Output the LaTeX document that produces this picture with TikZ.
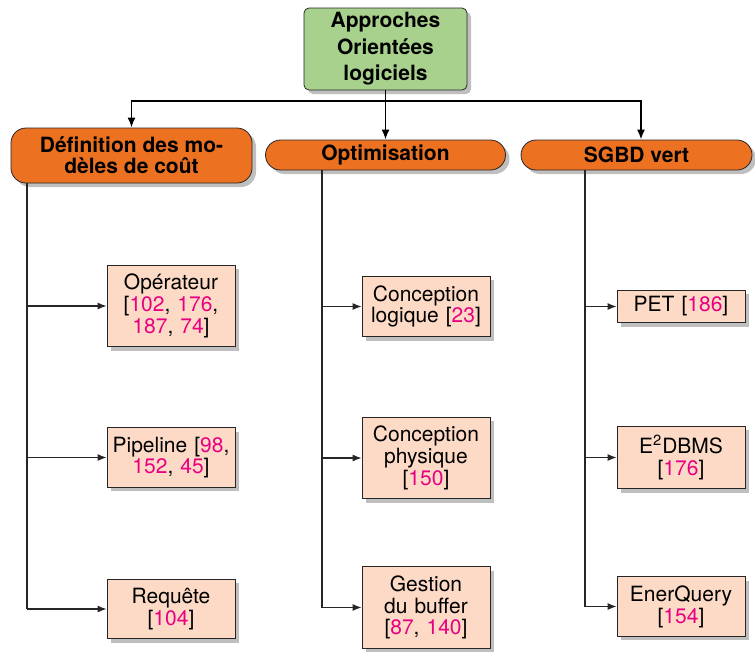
\documentclass[tikz,border=0pt]{standalone}
\usepackage{fontspec}
\setmainfont{TeX Gyre Heros}
\usetikzlibrary{positioning,shadows,arrows.meta}

\definecolor{rootgreen}{RGB}{169,209,142}
\definecolor{catorange}{RGB}{236,114,34}
\definecolor{leafpeach}{RGB}{252,218,197}
\definecolor{citepink}{RGB}{233,0,130}
\newcommand{\cit}[1]{\textcolor{citepink}{#1}}

\begin{document}
\begin{tikzpicture}[x=0.5pt,y=-0.5pt
	,every node/.append style={align=center, font=\fontsize{10.5}{10.9}\selectfont}
	,dropsh/.style={drop shadow={shadow xshift=2pt, shadow yshift=-2pt, fill=black!25, opacity=1}}
	,rootbox/.style={draw=black!85, fill=rootgreen, rounded corners=2.5pt, dropsh,
		minimum width=81.5pt, minimum height=41pt, inner sep=2pt,
		font=\fontsize{10.5}{13.3}\selectfont\bfseries}
	,catbox/.style={draw=black!85, fill=catorange, rounded corners=7.5pt, dropsh,
		minimum height=15pt, inner sep=2pt,
		font=\fontsize{10.5}{10.4}\selectfont\bfseries}
	,leaf/.style={draw=black!85, fill=leafpeach, dropsh,
		text width=60pt, inner xsep=2pt, inner ysep=4.5pt}
	,toparrow/.style={line width=0.9pt, -{Latex[length=5pt,width=4pt]}}
	,trunk/.style={line width=0.55pt, draw=black!85}
	,leafarrow/.style={trunk, -{Latex[length=4.5pt,width=3.5pt]}}
]
	\useasboundingbox (0,0) rectangle (755,653);

	% racine
	\node [rootbox] (root) at (385.5,49) {Approches\\Orientées\\logiciels};

	% categories
	\node [catbox, minimum width=120.5pt, minimum height=27.5pt] (defcout) at (131.5,155.5)
		{Définition des mo-\\dèles de coût};
	\node [catbox, minimum width=120pt] (optim) at (385.5,155) {Optimisation};
	\node [catbox, minimum width=115.5pt] (sgbd) at (636.5,155) {SGBD vert};

	% feuilles
	\node [leaf] (operateur) at (171,306) {Opérateur\\{[}\cit{102}, \cit{176},\\\cit{187}, \cit{74}]};
	\node [leaf] (pipeline) at (171,457.5) {Pipeline {[}\cit{98},\\\cit{152}, \cit{45}]};
	\node [leaf] (requete) at (171,609) {Requête\\{[}\cit{104}]};

	\node [leaf] (logique) at (426,306.5) {Conception\\logique {[}\cit{23}]};
	\node [leaf] (physique) at (426,458) {Conception\\physique\\{[}\cit{150}]};
	\node [leaf] (buffer) at (426,607.5) {Gestion\\du buffer\\{[}\cit{87}, \cit{140}]};

	\node [leaf, inner ysep=3.25pt] (pet) at (681,306.5) {PET {[}\cit{186}]};
	\node [leaf] (edbms) at (681,457.5) {E\textsuperscript{2}DBMS\\{[}\cit{176}]};
	\node [leaf] (enerquery) at (681,606.5) {EnerQuery\\{[}\cit{154}]};

	% liens
	\coordinate (bar) at (385.5,101);
	\draw [toparrow] (root) -- (optim);
	\draw [toparrow] (bar) -| (defcout.north);
	\draw [toparrow] (bar) -| ([xshift=2.25pt]sgbd.north);

	\coordinate (c1) at (27,0);
	\coordinate (c2) at (322,0);
	\coordinate (c3) at (585,0);
	\draw [trunk] (defcout.south -| c1) -- (requete.west -| c1);
	\draw [trunk] (optim.south -| c2) -- (buffer.west -| c2);
	\draw [trunk] (sgbd.south -| c3) -- (enerquery.west -| c3);
	\foreach \leaf in {operateur,pipeline,requete}
		\draw [leafarrow] (\leaf.west -| c1) -- (\leaf.west);
	\foreach \leaf in {logique,physique,buffer}
		\draw [leafarrow] (\leaf.west -| c2) -- (\leaf.west);
	\foreach \leaf in {pet,edbms,enerquery}
		\draw [leafarrow] (\leaf.west -| c3) -- (\leaf.west);
\end{tikzpicture}
\end{document}
